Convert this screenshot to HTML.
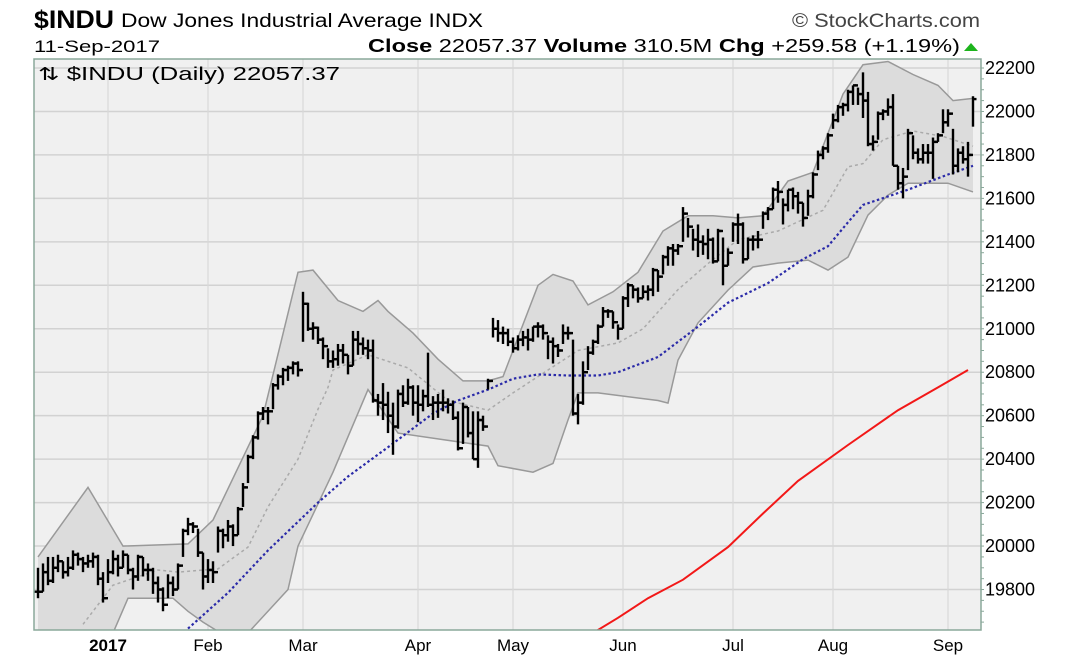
<!DOCTYPE html>
<html><head><meta charset="utf-8"><style>
body{margin:0;background:#fff;width:1083px;height:663px;overflow:hidden;font-family:"Liberation Sans",Arial,sans-serif}
svg text{font-family:"Liberation Sans",Arial,sans-serif}
</style></head><body>
<svg id="c" width="1083" height="663">
<text x="34" y="28" font-size="25" font-weight="bold" textLength="80" lengthAdjust="spacingAndGlyphs">$INDU</text>
<text x="121" y="27" font-size="19" textLength="362" lengthAdjust="spacingAndGlyphs">Dow Jones Industrial Average INDX</text>
<text x="792" y="27" font-size="19" fill="#444" textLength="188" lengthAdjust="spacingAndGlyphs">© StockCharts.com</text>
<text x="34" y="52" font-size="17" textLength="126" lengthAdjust="spacingAndGlyphs">11-Sep-2017</text>
<text x="368" y="52" font-size="18" textLength="592" lengthAdjust="spacingAndGlyphs"><tspan font-weight="bold">Close</tspan> 22057.37  <tspan font-weight="bold">Volume</tspan> 310.5M  <tspan font-weight="bold">Chg</tspan> +259.58 (+1.19%)</text>
<polygon points="964,51 978,51 971,43" fill="#1db41d"/>
<g id="plot"></g>
</svg>
<script>
const closes=[19790,19880,19840,19900,19930,19880,19900,19960,19940,19920,19930,19950,19850,19760,
19880,19940,19900,19960,19890,19860,19950,19890,19890,19830,19800,19730,19830,19800,19910,20070,20100,20090,19970,19860,
19890,19880,20070,20050,20090,20050,20170,20270,20410,20500,20610,20620,20620,20740,20780,20810,20820,20840,20810,
21115,21000,21005,20950,20920,20850,20860,20900,20880,20830,20950,20930,20910,20900,20670,20660,20650,20600,20550,20700,20660,20730,20660,
20650,20690,20650,20660,20660,20660,20650,20590,20450,20640,20520,20400,20580,20550,20760,21000,20980,20980,20940,
20910,20950,20960,20950,21010,21010,20980,20940,20920,20900,20980,20980,20610,20660,20800,20890,20940,21010,21080,21080,21030,21000,
21140,21200,21180,21140,21170,21180,21270,21240,21330,21370,21360,21380,21530,21470,21410,21400,21390,21410,21310,21450,21290,21350,
21480,21480,21320,21410,21410,21410,21530,21550,21640,21630,21570,21640,21610,21580,21510,21610,21710,21800,21830,21890,
21960,22020,22030,22090,22120,22080,22050,21850,21860,21990,22000,22020,21750,21670,21700,21900,21810,21780,21810,21810,21860,21890,21950,
21990,21750,21810,21780,21800,22057];
const highs=[19900,19920,19950,19950,19960,19930,19950,19980,19970,19950,19960,19970,19960,19880,
19940,19980,19960,19980,19960,19900,19960,19950,19920,19900,19860,19810,19870,19860,19920,20080,20130,20110,20080,19970,
19940,19930,20090,20080,20120,20100,20180,20290,20420,20510,20620,20640,20640,20750,20790,20820,20830,20850,20850,
21170,21120,21030,21010,20960,20910,20900,20930,20930,20880,20990,20990,20960,20950,20950,20700,20750,20710,20660,20720,20740,20770,20740,
20740,20720,20890,20690,20700,20720,20680,20670,20620,20660,20640,20620,20620,20600,20770,21050,21040,21010,21000,
20960,20970,20990,21000,21010,21030,21020,20970,20960,20930,21020,21010,20950,20700,20850,20920,20950,21020,21100,21090,21080,21020,
21150,21210,21200,21190,21200,21200,21280,21270,21340,21380,21390,21390,21560,21510,21460,21480,21430,21460,21420,21460,21420,21370,
21490,21530,21490,21420,21430,21450,21540,21560,21650,21680,21600,21640,21650,21630,21580,21640,21720,21820,21840,21900,
21990,22030,22040,22100,22120,22110,22180,22090,21890,22000,22010,22060,22080,21750,21740,21920,21890,21830,21850,21850,21880,21900,22010,
22010,21920,21830,21840,21860,22070];
const lows=[19760,19790,19820,19830,19880,19850,19860,19890,19910,19880,19900,19900,19820,19740,
19830,19870,19860,19900,19870,19800,19840,19860,19840,19780,19740,19700,19760,19770,19800,19950,20050,20060,19950,19800,
19830,19830,19970,19990,20020,20000,20050,20180,20290,20400,20490,20580,20560,20630,20720,20740,20760,20790,20780,
20940,20990,20950,20930,20860,20820,20820,20830,20840,20790,20830,20880,20880,20860,20660,20600,20580,20520,20420,20540,20640,20650,20600,
20570,20620,20640,20580,20590,20620,20610,20580,20440,20470,20500,20400,20360,20530,20720,20960,20940,20930,20920,
20890,20900,20920,20900,20940,20960,20950,20860,20840,20870,20930,20950,20600,20560,20650,20810,20880,20930,21010,21050,21000,20950,
21000,21100,21140,21120,21140,21130,21150,21170,21250,21290,21290,21340,21400,21420,21360,21330,21340,21320,21300,21310,21200,21290,
21400,21390,21300,21320,21360,21370,21460,21500,21550,21580,21480,21540,21550,21530,21470,21520,21600,21730,21780,21810,
21920,21950,21980,22000,22030,22030,21970,21840,21820,21870,21960,21980,21750,21640,21600,21730,21780,21760,21760,21760,21690,21860,21900,
21930,21710,21720,21760,21700,21930];
const upperIdx=[0,10,17,30,35,45,52,55,60,65,68,70,75,80,85,90,93,95,100,103,107,110,115,120,125,130,135,140,145,150,155,158,161,165,170,175,180,183,187];
const upperVal=[19950,20270,20000,20010,20120,20600,21260,21270,21130,21080,21130,21080,20980,20860,20760,20760,20780,20900,21200,21250,21220,21110,21170,21260,21450,21520,21520,21510,21520,21680,21720,21900,22080,22215,22230,22170,22120,22050,22060];
const lowerIdx=[0,10,15,18,27,30,33,40,50,52,59,66,72,81,90,92,99,103,106,108,112,124,126,128,132,138,143,148,154,158,162,166,170,174,182,187];
const lowerVal=[19600,19500,19600,19760,19760,19700,19650,19550,19800,20000,20340,20720,20520,20490,20460,20370,20340,20380,20580,20705,20705,20670,20658,20856,21027,21178,21284,21302,21316,21270,21330,21523,21615,21670,21670,21630];
const sma20Idx=[9,15,24,28,36,42,46,52,56,58,59,66,74,82,90,95,102,108,116,121,128,134,140,148,157,162,165,169,175,181,187];
const sma20Val=[19640,19820,19890,19880,19895,19995,20180,20400,20630,20730,20810,20880,20820,20670,20625,20705,20810,20900,20935,21000,21180,21300,21410,21450,21545,21745,21760,21870,21910,21885,21840];
const sma50Idx=[30,38,46,56,62,70,79,84,90,95,100,106,112,116,124,132,138,146,153,158,162,165,174,182,187];
const sma50Val=[19620,19785,19980,20200,20320,20455,20610,20670,20720,20770,20790,20785,20785,20800,20870,21010,21120,21210,21320,21380,21490,21570,21640,21710,21750];
const sma200Idx=[111,116,122,129,138,145,152,162,172,180,186];
const sma200Val=[19600,19670,19760,19845,19995,20150,20300,20465,20625,20730,20810];
const yTicks=[22200,22000,21800,21600,21400,21200,21000,20800,20600,20400,20200,20000,19800];
const monthLabels=["2017","Feb","Mar","Apr","May","Jun","Jul","Aug","Sep"];
const monthIdx=[14,34,53,76,95,117,139,159,182];

const L=34,R=981,T=59,B=630;
const X=i=>38+i*5;
const Y=v=>68+(22200-v)*0.2173;
const NS="http://www.w3.org/2000/svg";
const g=document.getElementById('plot');
function mk(t,a,p){const e=document.createElementNS(NS,t);for(const k in a)e.setAttribute(k,a[k]);(p||g).appendChild(e);return e;}
const clip=mk('clipPath',{id:'cp'});mk('rect',{x:L,y:T,width:R-L,height:B-T},clip);
const bg=mk('rect',{x:L,y:T,width:R-L,height:B-T,fill:'#f0f0f0'});


yTicks.forEach(v=>{
 const ln=mk('line',{x1:L,x2:R,y1:Y(v),y2:Y(v),stroke:'#d2d2d2','stroke-width':1.5});
 
 
 const t=mk('text',{x:R+4,y:Y(v)+6,'font-size':18});t.textContent=v;
 
 
});
for(let v=19650;v<=22200;v+=50){mk('line',{x1:R,x2:R+3,y1:Y(v),y2:Y(v),stroke:'#8aa89a'});}
monthIdx.forEach((m,k)=>{
 const ln=mk('line',{x1:X(m),x2:X(m),y1:T,y2:B,stroke:'#d8d8d8','stroke-width':1.2});
 
 
 const t=mk('text',{x:X(m),y:651,'font-size':17,'text-anchor':'middle','font-weight':k==0?'bold':'normal'});t.textContent=monthLabels[k];
 
 
});
const cg=mk('g',{'clip-path':'url(#cp)'});
function interp(idx,val,i){if(i<=idx[0])return val[0];for(let k=1;k<idx.length;k++){if(i<=idx[k]){const f=(i-idx[k-1])/(idx[k]-idx[k-1]);return val[k-1]+f*(val[k]-val[k-1]);}}return val[val.length-1];}
function pathOf(idx,val){return idx.map((i,k)=>(k?'L':'M')+X(i).toFixed(1)+','+Y(val[k]).toFixed(1)).join(' ');}
let up=[],lo=[];for(let i=0;i<=187;i++){up.push(X(i).toFixed(1)+','+Y(interp(upperIdx,upperVal,i)).toFixed(1));lo.push(X(i).toFixed(1)+','+Y(interp(lowerIdx,lowerVal,i)).toFixed(1));}
const band=mk('polygon',{points:up.concat(lo.reverse()).join(' '),fill:'#dcdcdc',stroke:'none'},cg);


const ub=mk('path',{d:pathOf(upperIdx,upperVal),fill:'none',stroke:'#999','stroke-width':1.5},cg);


const lb=mk('path',{d:pathOf(lowerIdx,lowerVal),fill:'none',stroke:'#999','stroke-width':1.5},cg);


const s20=mk('path',{d:pathOf(sma20Idx,sma20Val),fill:'none',stroke:'#aaa','stroke-width':1.5,'stroke-dasharray':'3,3'},cg);


const s50=mk('path',{d:pathOf(sma50Idx,sma50Val),fill:'none',stroke:'#2a2aa8','stroke-width':2.2,'stroke-dasharray':'2.5,2.5'},cg);


const s200=mk('path',{d:pathOf(sma200Idx,sma200Val),fill:'none',stroke:'#f21818','stroke-width':2},cg);


closes.forEach((c,i)=>{
 const x=X(i);const o=i?closes[i-1]:c;
 const b=mk('g',{stroke:'#000','stroke-width':2.4},cg);
 
 
 mk('line',{x1:x,x2:x,y1:Y(highs[i]),y2:Y(lows[i])},b);
 mk('line',{x1:x-3.5,x2:x,y1:Y(o),y2:Y(o)},b);
 mk('line',{x1:x,x2:x+3.5,y1:Y(c),y2:Y(c)},b);
});
const fr=mk('rect',{x:L,y:T,width:R-L,height:B-T,fill:'none',stroke:'#8aa89a','stroke-width':1.5});


const lg=mk('text',{x:38,y:80,'font-size':18,'font-family':'Liberation Mono, monospace',textLength:302,lengthAdjust:'spacingAndGlyphs'});lg.textContent='⇅ $INDU (Daily) 22057.37';


</script>
</body></html>
